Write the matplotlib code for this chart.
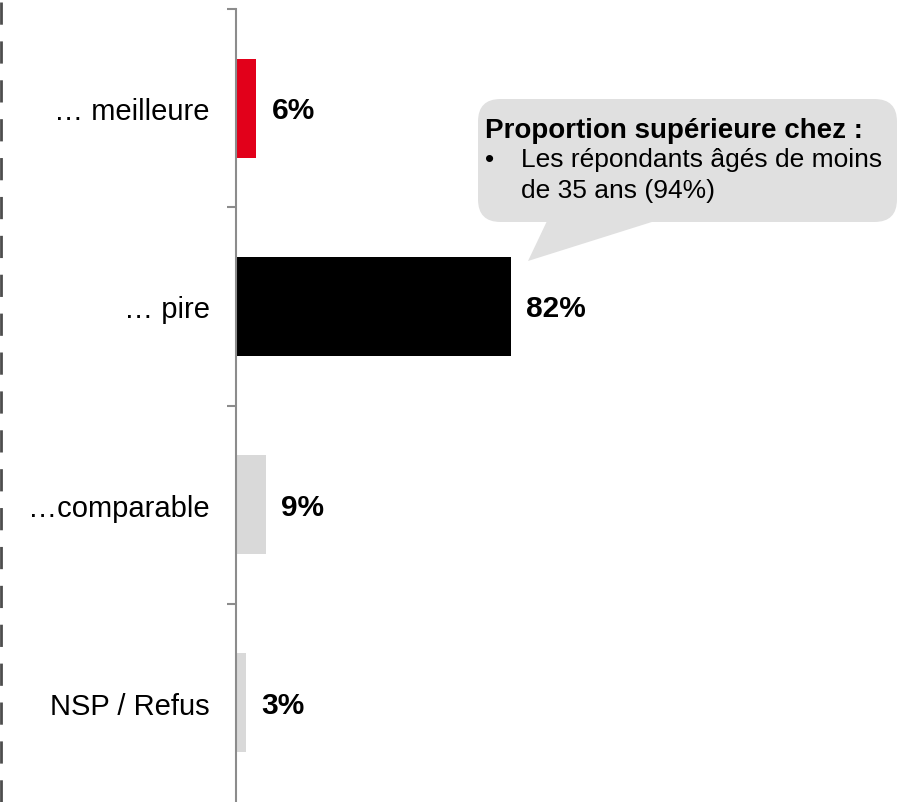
import matplotlib.pyplot as plt
from matplotlib.patches import FancyBboxPatch, Polygon
from matplotlib.lines import Line2D

plt.rcParams['font.family'] = ['Liberation Sans', 'DejaVu Sans']

# --- données ---
categories = ["… meilleure", "… pire", "…comparable", "NSP / Refus"]
values = [6, 82, 9, 3]
bar_colors = ["#e2001a", "#000000", "#d9d9d9", "#d9d9d9"]
callout_title = "Proportion supérieure chez :"
callout_lines = ["Les répondants âgés de moins", "de 35 ans (94%)"]

W, H = 901, 803
fig = plt.figure(figsize=(W / 100, H / 100), dpi=100)


def fx(px):
    return px / W


def fy(py):
    return 1 - py / H


# axe : ligne verticale à x=236 px, haut à y=10 px
ax = fig.add_axes([fx(236), 0, 1 - fx(236), fy(10)])
ypos = list(range(len(categories)))
ax.barh(ypos, values, height=0.5, color=bar_colors)
ax.set_xlim(0, 665 / 3.354)
ax.set_ylim(len(categories) - 0.5, -0.5)

for s in ['top', 'right', 'bottom']:
    ax.spines[s].set_visible(False)
ax.spines['left'].set_color('#8c8c8c')
ax.spines['left'].set_linewidth(1.5)
ax.set_xticks([])

ax.set_yticks(ypos)
ax.set_yticklabels(categories, fontsize=21)
ax.tick_params(axis='y', which='major', length=0, pad=19)
ax.set_yticks([i - 0.5 for i in range(len(categories))], minor=True)
ax.tick_params(axis='y', which='minor', length=6.5, width=1.5, color='#8c8c8c')
# léger décalage vers le bas des libellés, comme dans l'original
for lab in ax.get_yticklabels():
    lab.set_y(lab.get_position()[1])
    lab.set_va('center_baseline')

for y, v in zip(ypos, values):
    ax.annotate(f"{v}%", xy=(v, y), xytext=(11, -1.5), textcoords='offset points',
                va='center', ha='left', fontsize=21.5, fontweight='bold')

# ligne pointillée à gauche
fig.add_artist(Line2D([fx(1), fx(1)], [0, 1], color='#4d4d4d', linewidth=2,
                      linestyle=(0, (8, 6))))

# bulle de commentaire
bub = '#e0e0e0'
fig.add_artist(FancyBboxPatch((fx(478), fy(223)), fx(897) - fx(478), fy(100) - fy(223),
                              boxstyle="round,pad=0,rounding_size=0.025",
                              facecolor=bub, edgecolor='none',
                              mutation_aspect=W / H))
fig.add_artist(Polygon([(fx(547), fy(222)), (fx(655), fy(222)), (fx(528), fy(262))],
                       closed=True, facecolor=bub, edgecolor='none'))

fig.text(fx(485), fy(138), callout_title, fontsize=20, fontweight='bold', va='baseline')
fig.text(fx(485), fy(167), "•", fontsize=19, va='baseline')
fig.text(fx(521), fy(167), callout_lines[0], fontsize=19, va='baseline')
fig.text(fx(521), fy(198), callout_lines[1], fontsize=19, va='baseline')

fig.savefig('out.png', dpi=100)
